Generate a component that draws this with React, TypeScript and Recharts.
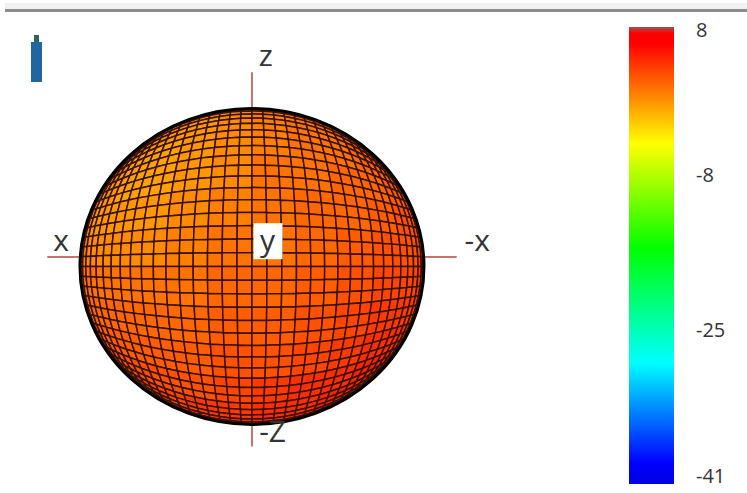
import {
  ComposedChart,
  Scatter,
  XAxis,
  YAxis,
  ReferenceLine,
  ReferenceDot,
  ReferenceArea,
} from 'recharts';

// mesh lines on the sphere, degrees from the viewing axis
const meshAngles = [
  90, 85, 80, 75, 70, 65, 60, 55, 50, 45, 40, 35, 30, 25, 20, 15, 10, 5, 0,
  -5, -10, -15, -20, -25, -30, -35, -40, -45, -50, -55, -60, -65, -70, -75, -80, -85, -90,
];

const gainBlocks = [
  [0.0, 0.0, 0.0, 0.0, 0.5, 0.5, 1.0, 1.5, 1.5, 1.5, 2.0, 2.0],
  [0.0, 0.0, 0.0, 0.0, 0.0, 0.5, 1.0, 1.5, 1.5, 2.0, 2.0, 2.0],
  [0.0, 0.0, -0.5, -0.5, 0.0, 0.5, 1.0, 1.5, 1.5, 2.0, 2.0, 2.5],
  [0.0, 0.0, -0.5, -0.5, 0.0, 0.5, 1.5, 1.5, 2.0, 2.0, 2.5, 2.5],
  [0.5, 0.0, 0.0, 0.0, 0.5, 1.0, 1.5, 2.0, 2.0, 2.5, 3.0, 3.0],
  [1.0, 0.5, 0.5, 0.5, 1.0, 1.5, 1.5, 2.0, 2.5, 3.0, 3.0, 3.5],
  [1.5, 1.5, 1.5, 1.5, 1.5, 2.0, 2.0, 2.5, 3.0, 3.5, 3.5, 4.0],
  [2.0, 2.0, 2.0, 2.0, 2.0, 2.5, 2.5, 3.0, 3.5, 4.0, 4.0, 4.0],
  [2.5, 2.5, 2.5, 2.5, 2.5, 3.0, 3.0, 3.5, 4.0, 4.5, 4.5, 4.5],
  [3.0, 3.0, 3.0, 3.0, 3.0, 3.5, 4.0, 4.5, 4.5, 5.0, 5.0, 5.0],
  [3.0, 3.0, 3.5, 3.5, 4.0, 4.0, 4.5, 4.5, 5.0, 5.0, 5.0, 5.0],
  [3.0, 3.0, 3.5, 3.5, 4.0, 4.5, 4.5, 5.0, 5.0, 5.0, 5.0, 5.0],
];

const colorTicks = [8, -8, -25, -41];
const colorStopValues = [8.3, 7.6, 6.5, -4.5, -16, -28.6, -39.6, -41.9];
const colorStopColors = ['#a05050', '#ff0000', '#ff0000', '#ffff00', '#00ff00', '#00ffff', '#0000ff', '#0000e0'];

const WIDTH = 747;
const HEIGHT = 493;
const FONT = '"Open Sans", sans-serif';
const LABEL = '#333333';
const AXIS_RED = '#b5453f';

// sphere units: +x points left in the picture, the sphere has radius 1
const xDomain: [number, number] = [-2.878, 1.465];
const zDomain: [number, number] = [-1.434, 1.687];
const PX_X = WIDTH / (xDomain[1] - xDomain[0]);
const PX_Z = HEIGHT / (zDomain[1] - zDomain[0]);

// mesh angle pair to a point on the disc seen from the front
const project = (a: number, b: number) => {
  const u = Math.sin((a * Math.PI) / 180);
  const v = Math.sin((b * Math.PI) / 180);
  return { x: u * Math.sqrt(1 - (v * v) / 2), z: v * Math.sqrt(1 - (u * u) / 2) };
};

const hexPart = (hex: string, i: number) => parseInt(hex.slice(1 + i * 2, 3 + i * 2), 16);

const gainColor = (gain: number) => {
  for (let i = 0; i < colorStopValues.length - 1; i++) {
    const hi = colorStopValues[i];
    const lo = colorStopValues[i + 1];
    if (gain <= hi && gain >= lo) {
      const t = (hi - gain) / (hi - lo);
      const rgb = [0, 1, 2].map((c) =>
        Math.round(hexPart(colorStopColors[i], c) * (1 - t) + hexPart(colorStopColors[i + 1], c) * t),
      );
      return `rgb(${rgb.join(',')})`;
    }
  }
  return '#0000ff';
};

const cells = meshAngles.slice(0, -1).flatMap((b, row) =>
  meshAngles.slice(0, -1).map((a, col) => {
    const a2 = meshAngles[col + 1];
    const b2 = meshAngles[row + 1];
    const corners = [project(a, b), project(a2, b), project(a2, b2), project(a, b2)];
    return {
      x: corners.reduce((s, c) => s + c.x, 0) / 4,
      z: corners.reduce((s, c) => s + c.z, 0) / 4,
      corners,
      fill: gainColor(gainBlocks[Math.floor(row / 3)][Math.floor(col / 3)]),
    };
  }),
);

const colorPoints = colorTicks.map((gain) => ({ pos: 0.5, gain }));

const MeshCell = ({ cx, cy, payload }: any) => {
  const pts = payload.corners
    .map((c: any) => `${cx - (c.x - payload.x) * PX_X},${cy - (c.z - payload.z) * PX_Z}`)
    .join(' ');
  return <polygon points={pts} fill={payload.fill} stroke="#3a1206" strokeWidth={1.5} />;
};

const Outline = ({ cx, cy }: any) => (
  <ellipse cx={cx} cy={cy} rx={PX_X} ry={PX_Z} fill="none" stroke="#000000" strokeWidth={3} />
);

const axisText = (text: string) => ({ cx, cy }: any) => (
  <text x={cx} y={cy} textAnchor="middle" dominantBaseline="central" fontFamily={FONT} fontSize={30} fill={LABEL}>
    {text}
  </text>
);

const YMarker = ({ cx, cy }: any) => (
  <g>
    <rect x={cx - 14} y={cy - 18} width={29} height={36} fill="#ffffff" />
    <text x={cx} y={cy - 2} textAnchor="middle" dominantBaseline="central" fontFamily={FONT} fontSize={30} fill={LABEL}>
      y
    </text>
  </g>
);

const SpherePlot = () => (
  <ComposedChart width={WIDTH} height={HEIGHT} margin={{ top: 0, right: 0, bottom: 0, left: 0 }}>
    <XAxis type="number" dataKey="x" domain={xDomain} reversed hide />
    <YAxis type="number" dataKey="z" domain={zDomain} hide />
    <Scatter data={cells} isAnimationActive={false} shape={MeshCell} />
    <ReferenceDot x={0} y={0} r={0} shape={Outline} />
    <ReferenceLine segment={[{ x: 0, y: 1 }, { x: 0, y: 1.23 }]} stroke={AXIS_RED} strokeWidth={1.5} />
    <ReferenceLine segment={[{ x: 0, y: -1 }, { x: 0, y: -1.14 }]} stroke={AXIS_RED} strokeWidth={1.5} />
    <ReferenceLine segment={[{ x: 1, y: 0.06 }, { x: 1.19, y: 0.06 }]} stroke={AXIS_RED} strokeWidth={1.5} />
    <ReferenceLine segment={[{ x: -1, y: 0.06 }, { x: -1.19, y: 0.06 }]} stroke={AXIS_RED} strokeWidth={1.5} />
    <ReferenceDot x={-0.08} y={1.34} r={0} shape={axisText('z')} />
    <ReferenceDot x={1.11} y={0.17} r={0} shape={axisText('x')} />
    <ReferenceDot x={-1.31} y={0.17} r={0} shape={axisText('-x')} />
    <ReferenceDot x={-0.12} y={-1.04} r={0} shape={axisText('-Z')} />
    <ReferenceDot x={-0.09} y={0.16} r={0} shape={YMarker} />
  </ComposedChart>
);

const ColorBar = () => (
  <ComposedChart width={127} height={477} margin={{ top: 10, right: 0, bottom: 10, left: 9 }}>
    <defs>
      <linearGradient id="gainScale" x1="0" y1="0" x2="0" y2="1">
        {colorStopValues.map((v, i) => (
          <stop key={v} offset={(8.3 - v) / 50.2} stopColor={colorStopColors[i]} />
        ))}
      </linearGradient>
    </defs>
    <XAxis type="number" dataKey="pos" domain={[0, 1]} hide />
    <YAxis
      type="number"
      dataKey="gain"
      orientation="right"
      width={73}
      domain={[-41.9, 8.3]}
      ticks={colorTicks}
      interval={0}
      tickSize={0}
      tickMargin={22}
      axisLine={false}
      tickLine={false}
      tick={{ fontSize: 20, fontFamily: FONT, fill: LABEL }}
    />
    <ReferenceArea x1={0} x2={1} y1={-41.9} y2={8.3} fill="url(#gainScale)" fillOpacity={1} stroke="none" />
    <Scatter data={colorPoints} isAnimationActive={false} shape={() => null} />
  </ComposedChart>
);

export default function App() {
  return (
    <div style={{ position: 'fixed', left: 0, top: 0, width: WIDTH, height: HEIGHT, background: '#ffffff', overflow: 'hidden' }}>
      <div style={{ position: 'absolute', left: 5, right: 0, top: 3, height: 6, background: '#f0f0f0' }} />
      <div style={{ position: 'absolute', left: 5, right: 0, top: 9, height: 3, background: '#8c8c8c' }} />
      <div style={{ position: 'absolute', left: 34, top: 35, width: 5, height: 8, background: '#2f6650' }} />
      <div style={{ position: 'absolute', left: 31, top: 42, width: 11, height: 40, background: '#1f66a3' }} />
      <div style={{ position: 'absolute', left: 0, top: 0 }}>
        <SpherePlot />
      </div>
      <div style={{ position: 'absolute', left: 620, top: 17 }}>
        <ColorBar />
      </div>
    </div>
  );
}
